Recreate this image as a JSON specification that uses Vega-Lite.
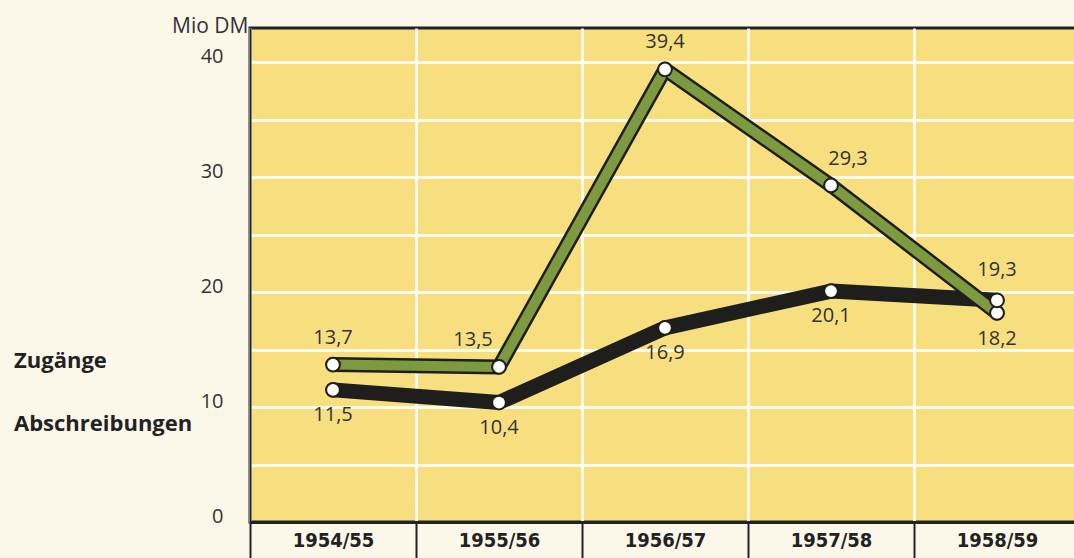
{
  "$schema": "https://vega.github.io/schema/vega-lite/v6.json",
  "autosize": {"type": "none"},
  "padding": {"left": 250, "top": 28, "right": 0, "bottom": 36},
  "width": 830,
  "height": 494,
  "background": "#FBF8EA",
  "config": {
    "locale": {"number": {"decimal": ",", "thousands": ".", "grouping": [3], "currency": ["", " DM"]}},
    "view": {"fill": "#F7DF7F", "stroke": "#222222", "strokeWidth": 3}
  },
  "data": {
    "values": [
      {"year": "1954/55", "series": "Zugänge", "value": 13.7},
      {"year": "1955/56", "series": "Zugänge", "value": 13.5},
      {"year": "1956/57", "series": "Zugänge", "value": 39.4},
      {"year": "1957/58", "series": "Zugänge", "value": 29.3},
      {"year": "1958/59", "series": "Zugänge", "value": 18.2},
      {"year": "1954/55", "series": "Abschreibungen", "value": 11.5},
      {"year": "1955/56", "series": "Abschreibungen", "value": 10.4},
      {"year": "1956/57", "series": "Abschreibungen", "value": 16.9},
      {"year": "1957/58", "series": "Abschreibungen", "value": 20.1},
      {"year": "1958/59", "series": "Abschreibungen", "value": 19.3}
    ]
  },
  "encoding": {
    "x": {
      "field": "year", "type": "ordinal",
      "scale": {"paddingInner": 0, "paddingOuter": 0},
      "axis": {
        "title": null, "orient": "bottom", "tickBand": "extent",
        "ticks": true, "tickColor": "#222222", "tickWidth": 2, "tickSize": 36,
        "domain": true, "domainColor": "#222222", "domainWidth": 3,
        "labelFont": "DejaVu Sans Condensed, DejaVu Sans, sans-serif", "labelFontWeight": "bold", "labelFontSize": 20,
        "labelColor": "#222222", "labelBaseline": "middle", "labelPadding": -18, "labelAngle": 0,
        "grid": true, "gridColor": "#FFFFFF", "gridWidth": 3, "gridOpacity": 0.85
      }
    },
    "y": {
      "field": "value", "type": "quantitative",
      "scale": {"domain": [0, 43], "nice": false, "zero": true},
      "axis": {
        "title": "Mio DM", "titleAngle": 0, "titleX": -2, "titleY": 4,
        "titleAlign": "right", "titleBaseline": "alphabetic",
        "titleFont": "Open Sans", "titleFontSize": 21, "titleFontWeight": "normal", "titleColor": "#333333",
        "values": [0, 5, 10, 15, 20, 25, 30, 35, 40],
        "labelExpr": "datum.value % 10 === 0 ? datum.label : ''",
        "ticks": false, "domain": true, "domainColor": "#222222", "domainWidth": 2,
        "labelFont": "Open Sans", "labelFontSize": 20, "labelColor": "#333333",
        "labelPadding": 27, "labelBaseline": "alphabetic",
        "grid": true, "gridColor": "#FFFFFF", "gridWidth": 3, "gridOpacity": 0.85
      }
    }
  },
  "layer": [
    {
      "mark": {"type": "line", "strokeWidth": 15, "strokeCap": "round", "strokeJoin": "round"},
      "encoding": {
        "color": {
          "field": "series", "type": "nominal",
          "scale": {"domain": ["Zugänge", "Abschreibungen"], "range": ["#1E1E1C", "#1E1E1C"]},
          "legend": {
            "orient": "none", "legendX": -258, "legendY": 322, "title": null,
            "symbolSize": 0, "symbolOpacity": 0, "symbolStrokeWidth": 0, "labelOffset": 0,
            "padding": 0, "rowPadding": 41,
            "labelFont": "Open Sans", "labelFontWeight": "bold", "labelFontSize": 22,
            "labelColor": "#222222", "labelLimit": 300
          }
        },
        "detail": {"field": "series"}
      }
    },
    {
      "transform": [{"filter": "datum.series === 'Zugänge'"}],
      "mark": {"type": "line", "strokeWidth": 10, "strokeCap": "round", "strokeJoin": "round", "color": "#7E9A40"},
      "encoding": {}
    },
    {
      "mark": {"type": "point", "filled": true, "fill": "#FFFFFF", "stroke": "#1E1E1C", "strokeWidth": 2, "size": 190, "opacity": 1},
      "encoding": {"detail": {"field": "series"}}
    },
    {
      "transform": [{"filter": "datum.series === 'Zugänge' && (datum.year === '1954/55' || datum.year === '1956/57')"}],
      "mark": {"type": "text", "dy": -27, "font": "Open Sans", "fontSize": 20, "color": "#333333"},
      "encoding": {"text": {"field": "value", "type": "quantitative", "format": ".1f"}}
    },
    {
      "transform": [{"filter": "datum.series === 'Zugänge' && datum.year === '1955/56'"}],
      "mark": {"type": "text", "dy": -27, "dx": -26, "font": "Open Sans", "fontSize": 20, "color": "#333333"},
      "encoding": {"text": {"field": "value", "type": "quantitative", "format": ".1f"}}
    },
    {
      "transform": [{"filter": "datum.series === 'Zugänge' && datum.year === '1957/58'"}],
      "mark": {"type": "text", "dy": -26, "dx": 17, "font": "Open Sans", "fontSize": 20, "color": "#333333"},
      "encoding": {"text": {"field": "value", "type": "quantitative", "format": ".1f"}}
    },
    {
      "transform": [{"filter": "datum.series === 'Zugänge' && datum.year === '1958/59'"}],
      "mark": {"type": "text", "dy": 26, "font": "Open Sans", "fontSize": 20, "color": "#333333"},
      "encoding": {"text": {"field": "value", "type": "quantitative", "format": ".1f"}}
    },
    {
      "transform": [{"filter": "datum.series === 'Abschreibungen' && datum.year !== '1958/59'"}],
      "mark": {"type": "text", "dy": 25, "font": "Open Sans", "fontSize": 20, "color": "#333333"},
      "encoding": {"text": {"field": "value", "type": "quantitative", "format": ".1f"}}
    },
    {
      "transform": [{"filter": "datum.series === 'Abschreibungen' && datum.year === '1958/59'"}],
      "mark": {"type": "text", "dy": -30, "font": "Open Sans", "fontSize": 20, "color": "#333333"},
      "encoding": {"text": {"field": "value", "type": "quantitative", "format": ".1f"}}
    }
  ]
}
